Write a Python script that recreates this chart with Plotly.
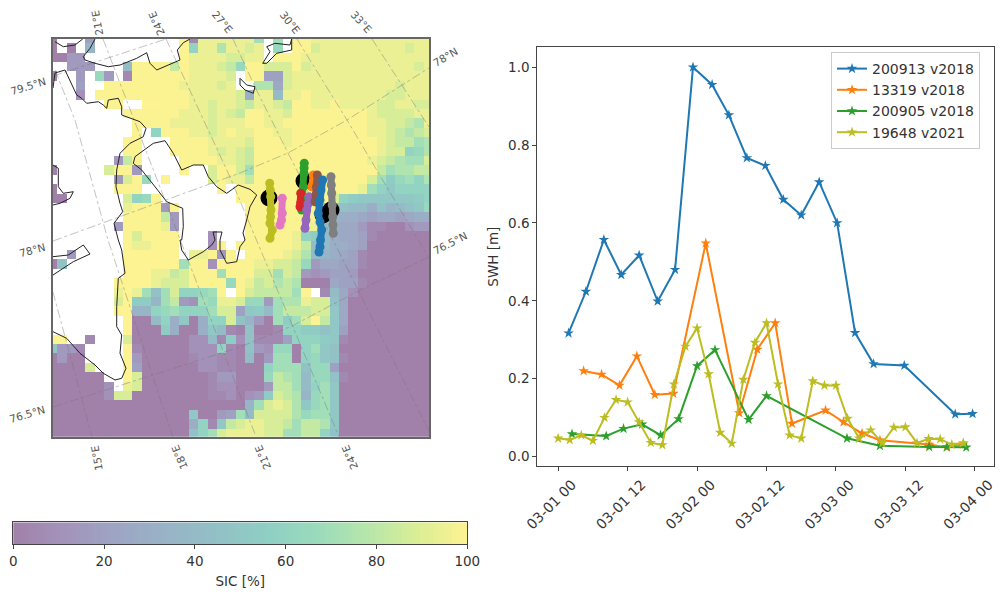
import pandas as pd
import plotly.graph_objects as go
from plotly.colors import sequential, hex_to_rgb

# ---- SIC grid: one letter per cell (see sic_levels / sic_values), "." = no data ----
sic_rows = [
    "a...e....." "....tbssss" "sso.o.ttss" "sssssssssss",
    "a.a.h....." "....tmssps" "srs.n.ttrs" "ssssssssrss",
    "aadd......" "....tssssr" "rss.tttsss" "sssssssssss",
    "..ddd...it" "tttqtsssrq" "nttrrrtrss" "sssssssssrs",
    "a..d.nd.bt" "tttttssssr" ".tteerssss" "sssssssssss",
    "...e..tttt" "ttttssssrs" "..ppfrssss" "sssssssrsss",
    "...c.ttttt" "tttttsssss" "rgssisstss" "ssssssrrsss",
    "......tt.." "uutttssrss" "rqssrqttss" "tssssrrssrr",
    "........tt" "ttttsssrsr" "qttssrtttt" "ttttsrrrrss",
    ".........t" "tttssssrss" "sttssttttt" "ttttssrrqps",
    ".........t" ".mtttssrst" "ssttsstttt" "ttttssrqpqr",
    "........tt" "...ttttsss" "srtttstttt" "tttttsrqqop",
    "........tt" "...ttttsrs" "rqtttttttt" "tttttsrrmnp",
    ".......dqt" "....ttttss" "rqtttttttt" "ttttsrqpoor",
    "a.....rttd" "....t..rtt" "rotttttttt" "tttttqoppqq",
    ".......drt" "n.t....rts" "sqtttttttt" "ttttrolnomp",
    "a......ttt" "........t." "tttttttttt" "tttsomkmmmm",
    "aa......rm" "nt........" "tttttttttt" "rmlkkkkkklm",
    "........st" "ttdt......" ".ttttttttj" "jjiigjhijkn",
    "........tt" "ttqd......" ".ttttttttk" "hggfeffefgg",
    ".......dtt" "ttsd......" ".ttttttssi" "gffdbbaacdd",
    "........tr" "tttt...c.." ".tttttsmli" "gffebaaaaaa",
    "........ts" "suuu...ct." "ttttttsqii" "ggfeaaaaaaa",
    "..d.....uu" "uuuu.sstdt" ".ttttsrpih" "gfebaaaaaaa",
    "aj......uu" "uuuuottctt" "ttssrrqndf" "feebaaaaaaa",
    "........uu" "ussqrtttot" "ttrrorqdcd" "eedaaaaaaaa",
    ".......uuu" "usrrrttttn" "tsqrpqpaaa" "feebaaaaaaa",
    ".......sus" "ojormmnot." "trqqqqou.b" "ifcaaaaaaaa",
    ".......rul" "lhoqdconss" "rnndoppsrr" "jfaaaaaaaaa",
    ".......uuh" "hmnommmorr" "eklioqqqrr" "kfaaaaaaaaa",
    "........ua" "aimgkagmmr" "jhdaoloruq" "kfaaaaaaaaa",
    "........ua" "aalgaagkib" "ajaabmmllj" "keaaaaaaaaa",
    "uu..b...ra" "aaaaaccibl" "cjbbbemmml" "kbaaaaaaaaa",
    "kddb....ub" "aaaaacccmb" "ajdcnnamok" "jaaaaaaaaaa",
    "adaa....ud" "aaaaabccbb" "aiadooamnk" "jbaaaaaaaaa",
    "aaaar...ue" "aaaaaaccbb" "aaamooojnn" "eaaaaaaaaaa",
    "aaaaaa..ur" "aaaaaaabdd" "aaanqpoinn" "jbaaaaaaaaa",
    "aaaaaac.sr" "aaaaaaabcc" "aaadqqoimo" "kaaaaaaaaaa",
    "aaaaaacrra" "aaaaaaabbc" "acdlrqphno" "kaaaaaaaaaa",
    "aaaaaaaaaa" "aaaaaaaaaa" "ahorsrpkno" "kaaaaaaaaaa",
    "aaaaaaaaaa" "aaaaakaade" "oirrrrpnoo" "kaaaaaaaaaa",
    "aaaaaaaaaa" "aaaaagmbkq" "rssrrqoqqp" "kaaaaaaaaaa",
    "aaaaaaaaaa" "aaaaajmors" "sssrrooqqm" "jaaaaaaaaaa",
]
sic_levels = "abcdefghijklmnopqrstu"
sic_values = [0, 5, 10, 15, 20, 25, 30, 35, 40, 45, 50, 55, 60, 65, 70, 75, 82, 88, 94, 99, 100]

# ---- map geometry, in the map axes' own units ----
cell_x0, cell_y0, cell_size = 52.6, 38.6, 9.4
coast_lines = [
    [(55, 41.7), (63.3, 46.7), (75, 45), (82.7, 39)],
    [(95, 39), (90, 48.3), (83.3, 56.7), (85, 60), (95, 63.3), (108.3, 66.7), (120, 65), (136.7, 58.3),
     (146.7, 52.7), (150, 63.3), (156.7, 70), (173.3, 63.3), (180, 60), (177.3, 50), (183.3, 42.7), (190, 39)],
    [(53, 88), (55, 73), (65, 70), (73.3, 86.7), (76.7, 95), (81.7, 98.3), (86.7, 103.3), (98.3, 101.7), (103.3, 105),
     (106.7, 108.3), (108.3, 100), (118.3, 98.3), (121.7, 106.7), (121.7, 115), (130, 118.3), (140, 121.7),
     (146, 128.3), (143.3, 136.7), (130, 143.3), (120, 153.3), (116.7, 170), (116, 186.7), (120, 203.3),
     (122.7, 211.7), (114, 223.3), (118.3, 240), (121.7, 250), (125, 273.3), (118.3, 278.3), (116.7, 306.7),
     (116.7, 326.7), (121.7, 335), (120, 353.3), (126, 368.3), (121.7, 378.3), (115, 380), (103.3, 373.3),
     (95, 365), (80, 353.3), (66.7, 338.3), (53, 331.7)],
    [(53, 165), (58.3, 168.3), (58.3, 186.7), (63.3, 193.3), (73.3, 191.7), (70, 198.3), (60, 203.3), (53, 205)],
    [(53, 256.7), (68.3, 255), (83.3, 245), (90, 254), (73.3, 261.7), (53, 275)],
    [(135, 156.7), (153.3, 143.3), (165, 140.7), (173.3, 153.3), (181.7, 170), (193.3, 165), (203.3, 165),
     (208.3, 176.7), (216.7, 186.7), (226.7, 193.3), (238.3, 185), (250, 189.3), (256.7, 195), (250, 206.7),
     (246.7, 220), (243, 233), (245, 240), (240, 246.7), (236.7, 261.7), (226.7, 263.3), (220, 250), (220, 240),
     (222, 232), (213, 232), (215, 240), (211.7, 245), (203.3, 251.7), (188.3, 260), (181.7, 250), (180, 240),
     (181.7, 240), (183.3, 226.7), (182.7, 208.3), (166.7, 201.7), (155, 186.7), (150, 180), (141.7, 170),
     (133.3, 163.3), (135, 156.7)],
    [(291.7, 39), (290, 45), (275, 43.3), (266.7, 46.7), (270, 51.7), (262.7, 63.3), (266.7, 63.3), (276.7, 53.3),
     (291.7, 50), (291.7, 39)],
    [(240, 78.3), (246.7, 85), (255, 86.7), (253.3, 93.3), (245, 90), (240, 85), (240, 78.3)],
]
graticule_lines = [
    [(53, 292), (92, 436.7)],
    [(55, 70), (75, 120), (108, 240), (172.7, 436.7)],
    [(103, 39), (138, 130), (180.5, 240), (256, 436.7)],
    [(166, 39), (230, 177), (339, 436.7)],
    [(233, 39), (255, 87), (288, 153), (333, 240), (429, 431)],
    [(297, 39), (347, 120), (429, 258)],
    [(372, 39), (429, 127)],
    [(53, 76), (166, 39)],
    [(53, 241), (240, 173), (288, 153), (347, 120), (429, 68)],
    [(53, 407), (240, 347), (292, 326), (360, 290), (429, 257)],
]
graticule_labels = ["21°E", "24°E", "27°E", "30°E", "33°E", "78°N", "79.5°N", "78°N", "76.5°N", "76.5°N",
                    "15°E", "18°E", "21°E", "24°E"]
label_x = [96.7, 156.7, 222.7, 290, 361.7, 445, 28.3, 32.3, 27.3, 450, 96.7, 179.3, 263, 350]
label_y = [22.7, 23.3, 21.7, 21.7, 21.7, 56.7, 86, 250, 414, 243.3, 458, 457.7, 458, 458]
label_angle = [-100, -113, 50, 52, 48, -30, -17, -15, -16, -27, -100, -113, -113, -113]

deploy_x = [269, 304, 323, 331]
deploy_y = [198, 181, 215, 210]
track_colors = ["#bcbd22", "#e377c2", "#2ca02c", "#d62728", "#9467bd", "#ff7f0e", "#8c564b", "#1f77b4", "#7f7f7f"]
track_x = [
    [269.7, 270.3, 270.7, 271, 270.5, 270, 272.3, 270],
    [282.3, 282.3, 281.5, 280],
    [304.3, 304.1, 304, 303.3, 302.5, 301.7],
    [300.7, 300.7, 300],
    [309, 308, 306.7, 306, 305],
    [313.3, 311.7],
    [317.3, 316.5, 316, 315],
    [322.7, 321, 320, 318.3, 320, 321.7, 320.5, 320, 319],
    [331, 331.3, 331.7, 332.2, 332.7, 333, 333.3],
]
track_y = [
    [183.3, 190, 196.7, 210, 217, 223.3, 230, 238.3],
    [198.3, 213.3, 220, 225],
    [163.3, 168, 173.3, 186.7, 198, 210],
    [193.3, 202.7, 206.7],
    [196.7, 204, 210, 220, 228.3],
    [175, 186.7],
    [175, 186.7, 195, 201.7],
    [180, 190, 200, 213.3, 222, 230, 240, 247, 252],
    [176.7, 185, 193.3, 205, 216.7, 225, 233.3],
]

# ---- SWH series ----
swh_names = ["200913 v2018", "13319 v2018", "200905 v2018", "19648 v2021"]
swh_colors = ["#1f77b4", "#ff7f0e", "#2ca02c", "#bcbd22"]
swh_hours = [
    [1.8, 4.8, 7.9, 10.9, 14.0, 17.2, 20.2, 23.3, 26.6, 29.5, 32.6, 35.8, 38.9, 42, 45.1, 48.2, 51.3, 54.5,
     59.8, 68.6, 71.6],
    [4.4, 7.5, 10.6, 13.6, 16.7, 19.9, 25.5, 31.3, 34.4, 37.5, 40.4, 46.2, 49.3, 52.5, 55.6, 64.1, 67.1, 70],
    [2.4, 8.3, 11.3, 14.5, 17.7, 20.8, 24, 27.1, 32.9, 36, 49.9, 55.6, 64.1, 67.2, 70.5],
    [0, 2, 4, 6, 8, 10, 12, 14, 16, 18, 20, 22, 24, 26, 28, 30, 32, 34, 36, 38, 40, 42, 44, 46, 48, 50, 52, 54,
     56, 58, 60, 62, 64, 66, 68, 70],
]
swh_values = [
    [.317, .424, .557, .467, .517, .399, .48, 1.0, .955, .877, .767, .747, .66, .62, .705, .60, .318, .238,
     .234, .109, .11],
    [.22, .211, .183, .258, .159, .162, .548, .112, .275, .343, .085, .119, .089, .06, .042, .031, .024, .032],
    [.058, .053, .072, .083, .055, .097, .233, .274, .095, .156, .047, .028, .025, .025, .024],
    [.047, .043, .055, .041, .10, .146, .14, .089, .036, .03, .186, .283, .33, .212, .062, .034, .198, .293,
     .343, .186, .055, .047, .194, .183, .183, .098, .047, .068, .035, .075, .076, .035, .046, .045, .031, .035],
]
time_ticks = ["2021-03-01 00:00", "2021-03-01 12:00", "2021-03-02 00:00", "2021-03-02 12:00",
              "2021-03-03 00:00", "2021-03-03 12:00", "2021-03-04 00:00"]
swh_ticks = [0.0, 0.2, 0.4, 0.6, 0.8, 1.0]
sic_ticks = [0, 20, 40, 60, 80, 100]
sic_scale = list(range(0, 101))

FONT = "DejaVu Sans"
W, H = 1000, 597
start = pd.Timestamp("2021-03-01")


def to_time(hours):
    return [start + pd.Timedelta(hours=h) for h in hours]


stops = []
n = len(sequential.Viridis) - 1
for i, c in enumerate(sequential.Viridis):
    r, g, b = hex_to_rgb(c)
    stops.append([i / n, f"rgb({(r + 255) // 2},{(g + 255) // 2},{(b + 255) // 2})"])

z = [[None if ch == "." else sic_values[sic_levels.index(ch)] for ch in row] for row in sic_rows]

fig = go.Figure()
fig.add_trace(go.Heatmap(
    z=z,
    x=[cell_x0 + cell_size * i for i in range(41)],
    y=[cell_y0 + cell_size * i for i in range(len(z))],
    zmin=0, zmax=100, colorscale=stops, xaxis="x", yaxis="y", hoverinfo="skip", showscale=False,
))
fig.add_trace(go.Heatmap(
    z=[sic_scale], x=sic_scale, y=[0], zmin=0, zmax=100, colorscale=stops,
    xaxis="x3", yaxis="y3", hoverinfo="skip", showscale=False,
))
for line in graticule_lines:
    fig.add_trace(go.Scatter(x=[p[0] for p in line], y=[p[1] for p in line], mode="lines", showlegend=False,
                             line=dict(color="rgba(120,120,120,0.45)", width=1, dash="dashdot"),
                             xaxis="x", yaxis="y", hoverinfo="skip"))
for line in coast_lines:
    fig.add_trace(go.Scatter(x=[p[0] for p in line], y=[p[1] for p in line], mode="lines", showlegend=False,
                             line=dict(color="#222", width=1), xaxis="x", yaxis="y", hoverinfo="skip"))
fig.add_trace(go.Scatter(x=deploy_x, y=deploy_y, mode="markers", showlegend=False,
                         marker=dict(color="black", size=17), xaxis="x", yaxis="y", hoverinfo="skip"))
for c, xs, ys in zip(track_colors, track_x, track_y):
    fig.add_trace(go.Scatter(x=xs, y=ys, mode="lines+markers", showlegend=False,
                             line=dict(color=c, width=7), marker=dict(color=c, size=9),
                             xaxis="x", yaxis="y", hoverinfo="skip"))

for name, c, hrs, vals in zip(swh_names, swh_colors, swh_hours, swh_values):
    fig.add_trace(go.Scatter(x=to_time(hrs), y=vals, name=name, mode="lines+markers",
                             line=dict(color=c, width=2), marker=dict(color=c, symbol="star", size=8),
                             xaxis="x2", yaxis="y2"))

fig.update_layout(
    width=W, height=H, margin=dict(l=0, r=0, t=0, b=0, autoexpand=False),
    paper_bgcolor="white", plot_bgcolor="white",
    font=dict(family=FONT, color="#333"),
    xaxis=dict(domain=[52.7 / W, 429 / W], range=[52.7, 429], showgrid=False, zeroline=False, showticklabels=False,
               ticks="", showline=True, mirror=True, linecolor="#666", linewidth=2, anchor="y"),
    yaxis=dict(domain=[1 - 436.7 / H, 1 - 38.7 / H], range=[436.7, 38.7], showgrid=False, zeroline=False,
               showticklabels=False, ticks="", showline=True, mirror=True, linecolor="#666", linewidth=2, anchor="x"),
    xaxis2=dict(domain=[537.3 / W, 994 / W], anchor="y2",
                range=[start - pd.Timedelta(hours=3.6), start + pd.Timedelta(hours=75.3)],
                tickmode="array", tickvals=time_ticks, tickformat="%m-%d %H", tickangle=-45,
                ticklabelshift=14, ticklabeloverflow="allow", ticks="outside", ticklen=4, tickcolor="#444",
                showgrid=False, zeroline=False, showline=True, mirror=True, linecolor="#444", linewidth=1,
                tickfont=dict(family=FONT, size=14, color="#333")),
    yaxis2=dict(domain=[1 - 466 / H, 1 - 47.3 / H], anchor="x2", range=[-0.024, 1.051],
                tickmode="array", tickvals=swh_ticks, tickformat=".1f", ticks="outside", ticklen=4, tickcolor="#444",
                showgrid=False, zeroline=False, showline=True, mirror=True, linecolor="#444", linewidth=1,
                tickfont=dict(family=FONT, size=13.5, color="#333"),
                title=dict(text="SWH [m]", standoff=6, font=dict(family=FONT, size=13.5, color="#333"))),
    xaxis3=dict(domain=[13.3 / W, 467.3 / W], anchor="y3", range=[0, 100], tickmode="array", tickvals=sic_ticks,
                ticks="outside", ticklen=4, tickcolor="#444", showgrid=False, zeroline=False, showline=True,
                mirror=True, linecolor="#444", linewidth=1, ticklabeloverflow="allow",
                tickfont=dict(family=FONT, size=13.5, color="#333"),
                title=dict(text="SIC [%]", standoff=9, font=dict(family=FONT, size=13.5, color="#333"))),
    yaxis3=dict(domain=[1 - 544.3 / H, 1 - 522.3 / H], anchor="x3", range=[-0.5, 0.5], showticklabels=False,
                ticks="", showgrid=False, zeroline=False, showline=True, mirror=True, linecolor="#444", linewidth=1),
    legend=dict(x=831 / W, y=1 - 52 / H, xanchor="left", yanchor="top", bgcolor="rgba(255,255,255,0.8)",
                bordercolor="#ccc", borderwidth=1, font=dict(family=FONT, size=14, color="#333"),
                itemwidth=30, entrywidth=112, entrywidthmode="pixels"),
    annotations=[dict(x=x / W, y=1 - y / H, xref="paper", yref="paper", text=t, textangle=a, showarrow=False,
                      font=dict(family=FONT, size=10.5, color="#555"), xanchor="center", yanchor="middle")
                 for t, x, y, a in zip(graticule_labels, label_x, label_y, label_angle)],
)

fig.write_html("out.html", config={"displayModeBar": False}, post_script="document.body.style.margin='0';")
